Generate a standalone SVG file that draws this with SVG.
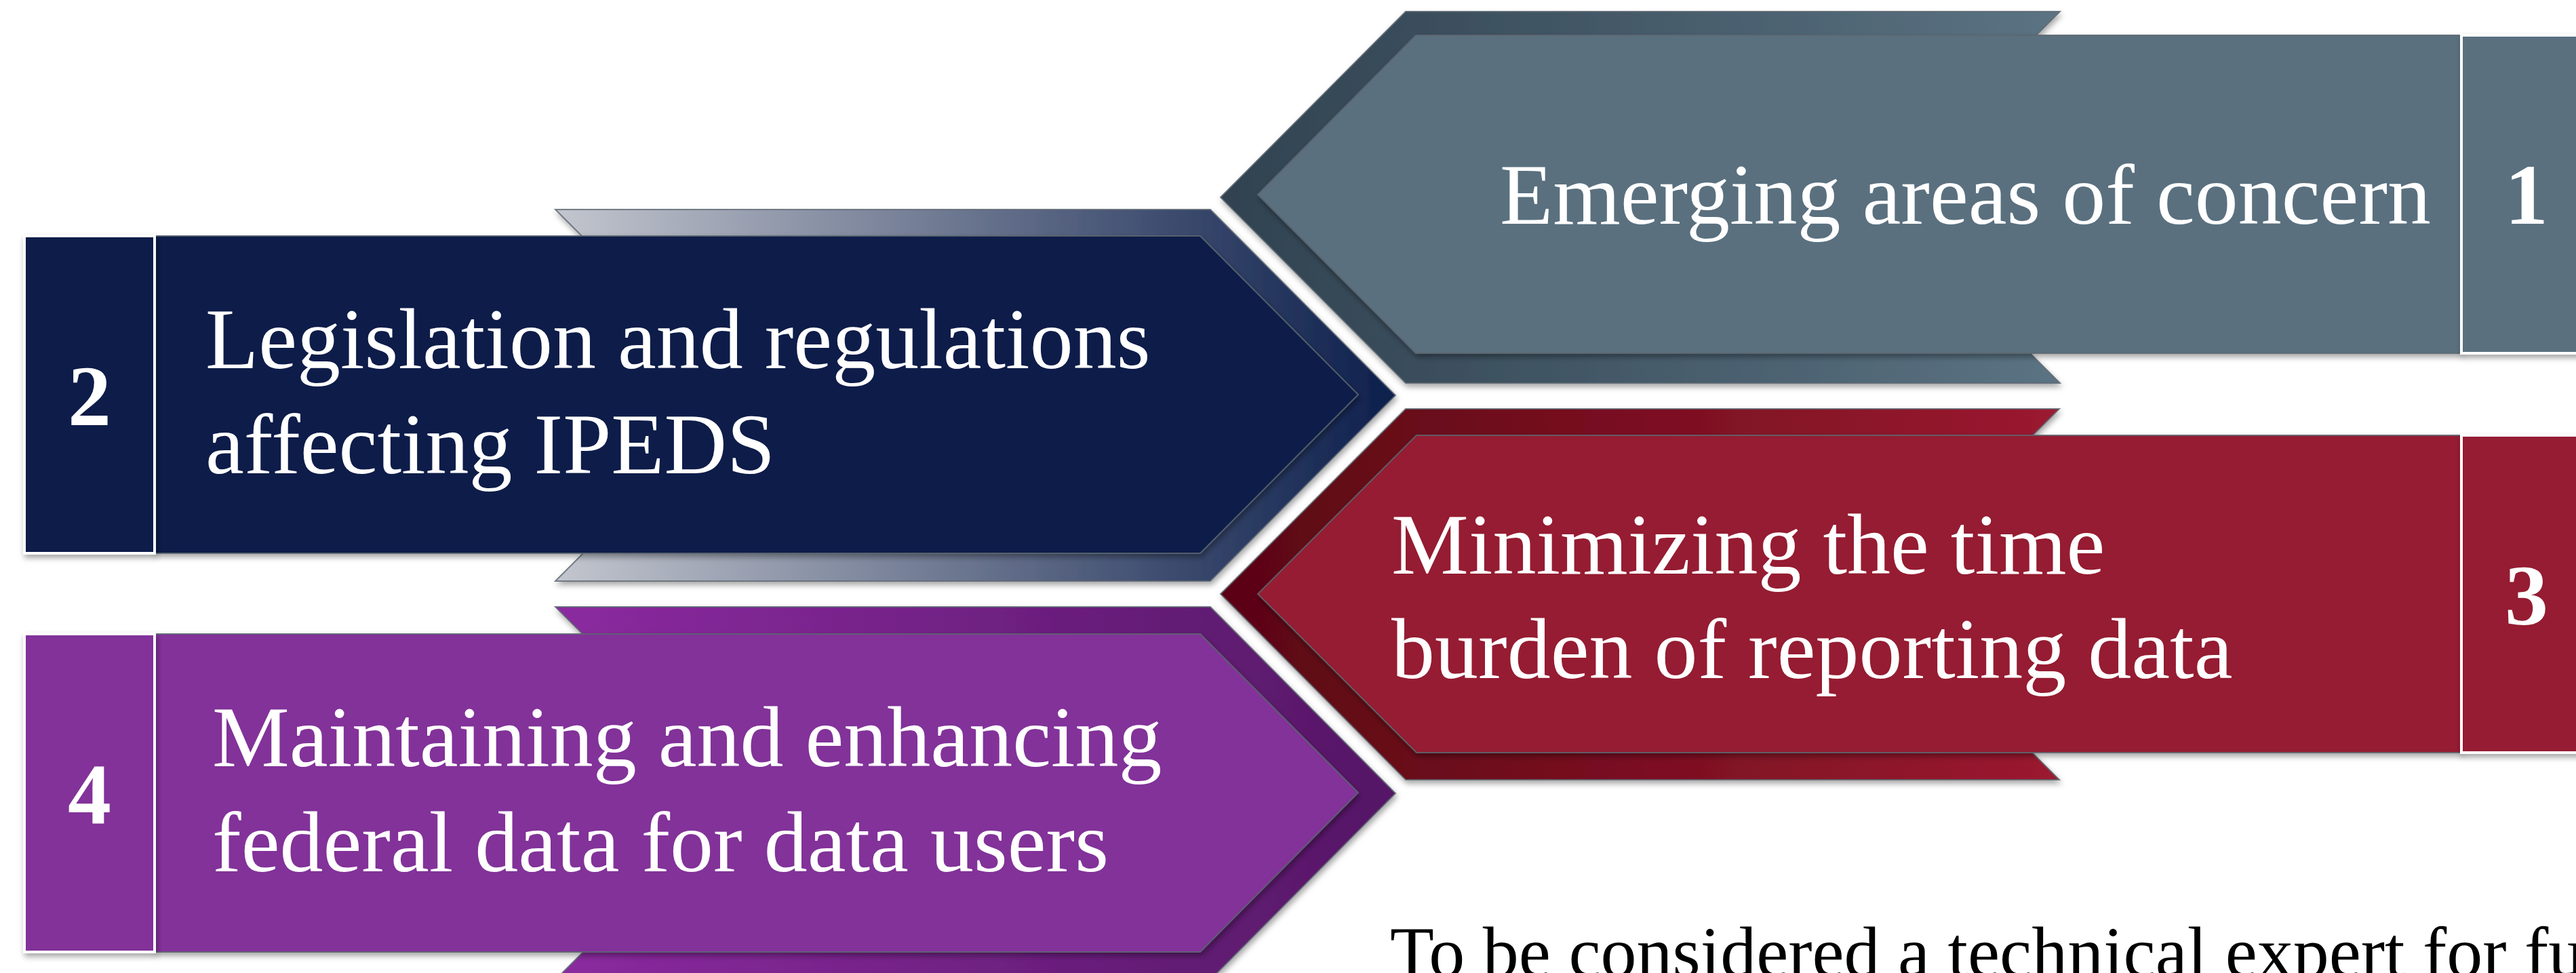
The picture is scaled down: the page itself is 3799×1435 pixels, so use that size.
<svg xmlns="http://www.w3.org/2000/svg" width="3799" height="1435" viewBox="0 0 3799 1435">
<defs>
<style>
.back{stroke:#5d6670;stroke-width:2;stroke-opacity:0.8;filter:url(#sh)}
.front{stroke:#5d6670;stroke-width:2;stroke-opacity:0.85;filter:url(#sh)}
.box{stroke:#ffffff;stroke-width:4;filter:url(#sh)}
.lbl{font-family:"Liberation Serif","Times New Roman",serif;font-size:128px;fill:#ffffff}
.num{font-family:"Liberation Serif","Times New Roman",serif;font-size:128px;font-weight:bold;fill:#ffffff;text-anchor:middle}
.note{font-family:"Liberation Serif","Times New Roman",serif;font-size:106px;fill:#000000}
.slate{fill:#5a6f7f}
.navy{fill:#081d4a}
.red{fill:#951c30}
.purple{fill:#823399}
</style>
<linearGradient id="gSlate" x1="0" y1="0" x2="1" y2="0">
<stop offset="0" stop-color="#304250"/>
<stop offset="1" stop-color="#5b7383"/>
</linearGradient>
<linearGradient id="gNavy" x1="0" y1="0" x2="1" y2="0">
<stop offset="0" stop-color="#c3c6ce"/>
<stop offset="1" stop-color="#0c1f4c"/>
</linearGradient>
<linearGradient id="gRed" x1="0" y1="0" x2="1" y2="0">
<stop offset="0" stop-color="#5a0513"/>
<stop offset="1" stop-color="#9b1a30"/>
</linearGradient>
<linearGradient id="gPurple" x1="0" y1="0" x2="1" y2="0">
<stop offset="0" stop-color="#8b2aa0"/>
<stop offset="1" stop-color="#551766"/>
</linearGradient>
<filter id="sh" x="-5%" y="-5%" width="110%" height="115%">
<feDropShadow dx="2" dy="5" stdDeviation="4" flood-color="#000000" flood-opacity="0.35"/>
</filter>
</defs>
<rect x="0" y="0" width="3799" height="1435" fill="#ffffff"/>

<g id="node1">
<polygon class="back" fill="url(#gSlate)" points="1800,291 2073,17 3038,17 2764,291 3038,565 2073,565"/>
<polygon class="front slate" points="1855,287 2088,52 3630,52 3630,521 2088,521"/>
<rect class="box slate" x="3630" y="52" width="192" height="469"/>
<text class="lbl" x="2212" y="330">Emerging areas of concern</text>
<text class="num" x="3726" y="330">1</text>
</g>

<g id="node2">
<polygon class="back" fill="url(#gNavy)" points="819,309 1785,309 2058,583 1785,857 819,857 1093,583"/>
<polygon class="front navy" points="228,348 1770,348 2003,582 1770,816 228,816"/>
<rect class="box navy" x="36" y="348" width="192" height="468"/>
<text class="lbl" x="303" y="543">Legislation and regulations</text>
<text class="lbl" x="303" y="698">affecting IPEDS</text>
<text class="num" x="132" y="627">2</text>
</g>

<g id="node3">
<polygon class="back" fill="url(#gRed)" points="1800,876 2073,603 3037,603 2764,876 3037,1150 2073,1150"/>
<polygon class="front red" points="1855,876 2089,642 3630,642 3630,1110 2089,1110"/>
<rect class="box red" x="3630" y="642" width="192" height="468"/>
<text class="lbl" x="2052" y="846">Minimizing the time</text>
<text class="lbl" x="2052" y="1000">burden of reporting data</text>
<text class="num" x="3726" y="921">3</text>
</g>

<g id="node4">
<polygon class="back" fill="url(#gPurple)" points="819,895 1785,895 2058,1170 1785,1445 819,1445 1094,1170"/>
<polygon class="front purple" points="228,935 1770,935 2003,1169 1770,1404 228,1404"/>
<rect class="box purple" x="36" y="935" width="192" height="469"/>
<text class="lbl" x="313" y="1130">Maintaining and enhancing</text>
<text class="lbl" x="313" y="1285">federal data for data users</text>
<text class="num" x="132" y="1214">4</text>
</g>

<g id="connectors"/>

<g id="note">
<text class="note" x="2050" y="1440">To be considered a technical expert for fu</text>
</g>
</svg>
